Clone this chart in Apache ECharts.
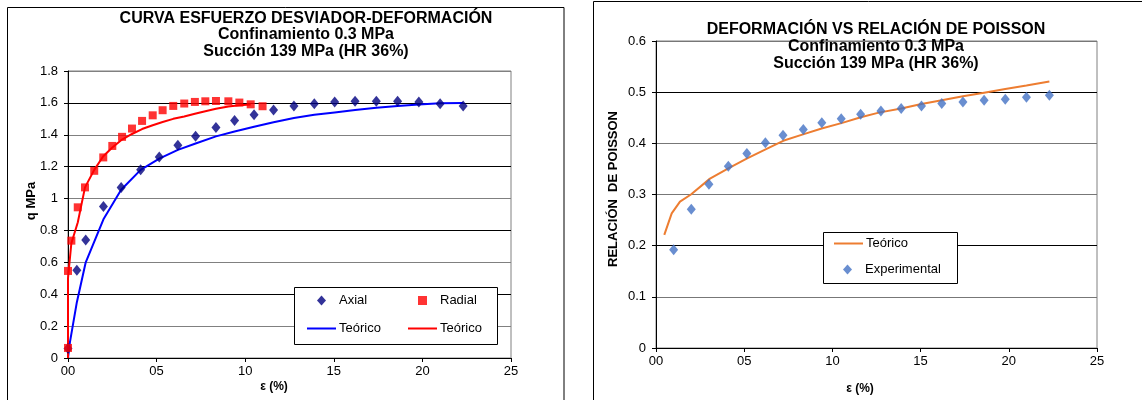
<!DOCTYPE html>
<html>
<head>
<meta charset="utf-8">
<title>Curvas esfuerzo-deformación y relación de Poisson</title>
<script src="https://cdn.jsdelivr.net/npm/echarts@6/dist/echarts.min.js"></script>
<style>
  html, body { margin: 0; padding: 0; background: #fff; }
  #chart { width: 1142px; height: 400px; }
</style>
</head>
<body>
<div id="chart"></div>
<script>
// Ensayo triaxial: confinamiento 0.3 MPa, succión 139 MPa (HR 36%)

// Deformación axial (%) y esfuerzo desviador q (MPa)
const axialStrain = [0, 0.5, 1.0, 2.0, 3.0, 4.1, 5.15, 6.2, 7.2, 8.35, 9.4, 10.5, 11.6, 12.75, 13.9, 15.05, 16.2, 17.4, 18.6, 19.8, 21.0, 22.3];
const axialQ      = [0.06, 0.55, 0.74, 0.95, 1.07, 1.18, 1.26, 1.335, 1.39, 1.445, 1.49, 1.525, 1.555, 1.58, 1.595, 1.605, 1.61, 1.61, 1.61, 1.605, 1.595, 1.58];

// Deformación radial (%) y esfuerzo desviador q (MPa)
const radialStrain = [0, 0, 0.19, 0.55, 0.96, 1.48, 1.99, 2.5, 3.05, 3.61, 4.18, 4.78, 5.34, 5.94, 6.56, 7.16, 7.75, 8.35, 9.05, 9.67, 10.31, 10.98];
const radialQ      = [0.063, 0.546, 0.736, 0.945, 1.07, 1.174, 1.258, 1.33, 1.387, 1.439, 1.487, 1.522, 1.554, 1.581, 1.596, 1.606, 1.61, 1.612, 1.61, 1.602, 1.591, 1.579];

// Curva teórica axial
const theoAxialStrain = [0, 0.11, 0.5, 1.0, 2.0, 3.0, 4.1, 5.15, 6.2, 7.2, 8.35, 9.4, 10.5, 11.6, 12.75, 13.9, 15.05, 16.2, 17.4, 18.6, 19.8, 21.0, 22.3];
const theoAxialQ      = [0, 0.1, 0.35, 0.6, 0.87, 1.055, 1.18, 1.25, 1.305, 1.345, 1.39, 1.42, 1.45, 1.478, 1.505, 1.525, 1.54, 1.555, 1.57, 1.58, 1.59, 1.597, 1.6];

// Curva teórica radial
const theoRadialStrain = [0, 0, 0.19, 0.55, 0.96, 1.48, 1.99, 2.5, 3.05, 3.61, 4.18, 4.78, 5.34, 5.94, 6.56, 7.16, 7.75, 8.35, 9.05, 9.67, 10.31];
const theoRadialQ      = [0, 0.5, 0.72, 0.85, 1.07, 1.18, 1.265, 1.32, 1.37, 1.405, 1.436, 1.46, 1.48, 1.5, 1.515, 1.532, 1.548, 1.563, 1.578, 1.585, 1.59];

// Relación de Poisson experimental
const poissonStrain = [1.0, 2.0, 3.0, 4.1, 5.15, 6.2, 7.2, 8.35, 9.4, 10.5, 11.6, 12.75, 13.9, 15.05, 16.2, 17.4, 18.6, 19.8, 21.0, 22.3];
const poissonExp    = [0.192, 0.271, 0.32, 0.355, 0.38, 0.401, 0.416, 0.427, 0.44, 0.448, 0.457, 0.463, 0.468, 0.473, 0.478, 0.481, 0.484, 0.486, 0.49, 0.494];

// Relación de Poisson teórica
const poissonTheoStrain = [0.47, 0.89, 1.36, 1.98, 3.06, 4.1, 5.14, 6.21, 7.21, 8.29, 9.39, 10.56, 11.61, 12.63, 13.9, 15.05, 16.2, 17.4, 18.6, 19.8, 21.0, 22.3];
const poissonTheo       = [0.221, 0.263, 0.286, 0.3, 0.331, 0.351, 0.37, 0.388, 0.405, 0.417, 0.429, 0.44, 0.451, 0.46, 0.468, 0.477, 0.484, 0.492, 0.499, 0.506, 0.513, 0.521];

// Etiquetas del eje de deformación
const xTickLabels = ['00', '05', '10', '15', '20', '25'];

const pairs = (xs, ys) => xs.map((x, i) => [x, ys[i]]);

const FONT = '"Liberation Sans", Arial, sans-serif';

function strainAxis(gridIndex) {
  return {
    type: 'value', gridIndex, min: 0, max: 25, interval: 5,
    axisLine: { show: true, onZero: false, lineStyle: { color: '#000', width: 1 } },
    axisTick: { show: true, inside: false, length: 4, lineStyle: { color: '#000' } },
    axisLabel: {
      margin: 7, color: '#000', fontFamily: FONT, fontSize: 13,
      formatter: v => xTickLabels[Math.round(v / 5)]
    },
    splitLine: { show: false }
  };
}

const chart = echarts.init(document.getElementById('chart'), null, { renderer: 'canvas' });

const legendText = { fontFamily: FONT, fontSize: 13, color: '#000' };
// icono de línea para las curvas teóricas
const lineLegend = (name, left, top, width) => ({
  data: [{ name, icon: 'rect' }], left, top, padding: 0, itemWidth: width, itemHeight: 2,
  selectedMode: false, textStyle: Object.assign({ padding: [0, 0, 0, -2] }, legendText), formatter: () => 'Teórico'
});

chart.setOption({
  animation: false,
  backgroundColor: '#fff',
  grid: [
    { left: 68, right: 631, top: 71, bottom: 42, show: true, borderColor: '#808080', borderWidth: 1, backgroundColor: 'transparent' },
    { left: 656, right: 45, top: 41, bottom: 52, show: true, borderColor: '#808080', borderWidth: 1, backgroundColor: 'transparent' }
  ],
  xAxis: [strainAxis(0), strainAxis(1)],
  yAxis: [
    {
      type: 'value', gridIndex: 0, min: 0, max: 1.8, interval: 0.2,
      axisLine: { show: true, lineStyle: { color: '#000' } },
      axisTick: { show: true, inside: false, length: 4, lineStyle: { color: '#000' } },
      axisLabel: { margin: 10, color: '#000', fontFamily: FONT, fontSize: 13 },
      splitLine: { show: true, lineStyle: { color: ['#000', '#808080'], width: 1 } }
    },
    {
      type: 'value', gridIndex: 1, min: 0, max: 0.6, interval: 0.1,
      axisLine: { show: true, lineStyle: { color: '#000' } },
      axisTick: { show: true, inside: false, length: 4, lineStyle: { color: '#000' } },
      axisLabel: { margin: 10, color: '#000', fontFamily: FONT, fontSize: 13 },
      splitLine: { show: true, lineStyle: { color: ['#000', '#777', '#000', '#777', '#777', '#000', '#777'], width: 1 } }
    }
  ],
  legend: [
    { data: [{ name: 'Axial', icon: 'diamond' }], left: 317, top: 294, padding: 0, itemWidth: 9, itemHeight: 10, selectedMode: false, textStyle: Object.assign({ padding: [0, 0, 0, 8] }, legendText) },
    { data: [{ name: 'Radial', icon: 'rect' }], left: 418, top: 294, padding: 0, itemWidth: 9, itemHeight: 9, selectedMode: false, textStyle: Object.assign({ padding: [0, 0, 0, 8] }, legendText) },
    lineLegend('Teórico axial', 307, 322, 29),
    lineLegend('Teórico radial', 408, 322, 29),
    lineLegend('Teórico', 834, 237, 29),
    { data: [{ name: 'Experimental', icon: 'diamond' }], left: 843, top: 263, padding: 0, itemWidth: 9, itemHeight: 10, selectedMode: false, textStyle: Object.assign({ padding: [0, 0, 0, 8] }, legendText) }
  ],
  graphic: [
    // marcos de cada gráfico
    { type: 'rect', z: 0, silent: true, shape: { x: 7.5, y: 7.5, width: 556.5, height: 420 }, style: { fill: 'none', stroke: '#000', lineWidth: 1 } },
    { type: 'rect', z: 0, silent: true, shape: { x: 593.5, y: 1.5, width: 600, height: 420 }, style: { fill: 'none', stroke: '#000', lineWidth: 1 } },
    // cajas de leyenda
    { type: 'rect', z: 3, silent: true, shape: { x: 294.5, y: 287.5, width: 203, height: 57 }, style: { fill: '#fff', stroke: '#000', lineWidth: 1 } },
    { type: 'rect', z: 3, silent: true, shape: { x: 823.5, y: 232.5, width: 134, height: 51 }, style: { fill: '#fff', stroke: '#000', lineWidth: 1 } },
    // títulos
    { type: 'text', z: 5, silent: true, x: 306, y: 10,
      style: { text: 'CURVA ESFUERZO DESVIADOR-DEFORMACIÓN\nConfinamiento 0.3 MPa\nSucción 139 MPa (HR 36%)', align: 'center', verticalAlign: 'top', lineHeight: 16.5, font: 'bold 16px ' + FONT, fill: '#000' } },
    { type: 'text', z: 5, silent: true, x: 876, y: 21,
      style: { text: 'DEFORMACIÓN VS RELACIÓN DE POISSON\nConfinamiento 0.3 MPa\nSucción 139 MPa (HR 36%)', align: 'center', verticalAlign: 'top', lineHeight: 17, font: 'bold 16px ' + FONT, fill: '#000' } },
    // nombres de ejes
    { type: 'text', z: 5, silent: true, x: 31, y: 201, rotation: Math.PI / 2,
      style: { text: 'q MPa', align: 'center', verticalAlign: 'middle', font: 'bold 13px ' + FONT, fill: '#000' } },
    { type: 'text', z: 5, silent: true, x: 613, y: 189, rotation: Math.PI / 2,
      style: { text: 'RELACIÓN  DE POISSON', align: 'center', verticalAlign: 'middle', font: 'bold 13px ' + FONT, fill: '#000' } },
    { type: 'text', z: 5, silent: true, x: 274, y: 387,
      style: { text: 'ε (%)', align: 'center', verticalAlign: 'middle', font: 'bold 12px ' + FONT, fill: '#000' } },
    { type: 'text', z: 5, silent: true, x: 860, y: 389,
      style: { text: 'ε (%)', align: 'center', verticalAlign: 'middle', font: 'bold 12px ' + FONT, fill: '#000' } }
  ],
  series: [
    { name: 'Teórico axial', type: 'line', xAxisIndex: 0, yAxisIndex: 0, data: pairs(theoAxialStrain, theoAxialQ),
      symbol: 'none', color: '#0000FF', lineStyle: { color: '#0000FF', width: 2 }, z: 2 },
    { name: 'Teórico radial', type: 'line', xAxisIndex: 0, yAxisIndex: 0, data: pairs(theoRadialStrain, theoRadialQ),
      symbol: 'none', color: '#FF0000', lineStyle: { color: '#FF0000', width: 2 }, z: 2 },
    { name: 'Axial', type: 'scatter', xAxisIndex: 0, yAxisIndex: 0, data: pairs(axialStrain, axialQ),
      symbol: 'diamond', symbolSize: [9, 11], itemStyle: { color: '#000080' }, z: 3 },
    { name: 'Radial', type: 'scatter', xAxisIndex: 0, yAxisIndex: 0, data: pairs(radialStrain, radialQ),
      symbol: 'rect', symbolSize: 8, itemStyle: { color: '#FF0000' }, z: 4 },
    { name: 'Teórico', type: 'line', xAxisIndex: 1, yAxisIndex: 1, data: pairs(poissonTheoStrain, poissonTheo),
      symbol: 'none', color: '#ED7D31', lineStyle: { color: '#ED7D31', width: 2 }, z: 2 },
    { name: 'Experimental', type: 'scatter', xAxisIndex: 1, yAxisIndex: 1, data: pairs(poissonStrain, poissonExp),
      symbol: 'diamond', symbolSize: [9, 11], itemStyle: { color: '#4472C4' }, z: 3 }
  ]
});
</script>
</body>
</html>
